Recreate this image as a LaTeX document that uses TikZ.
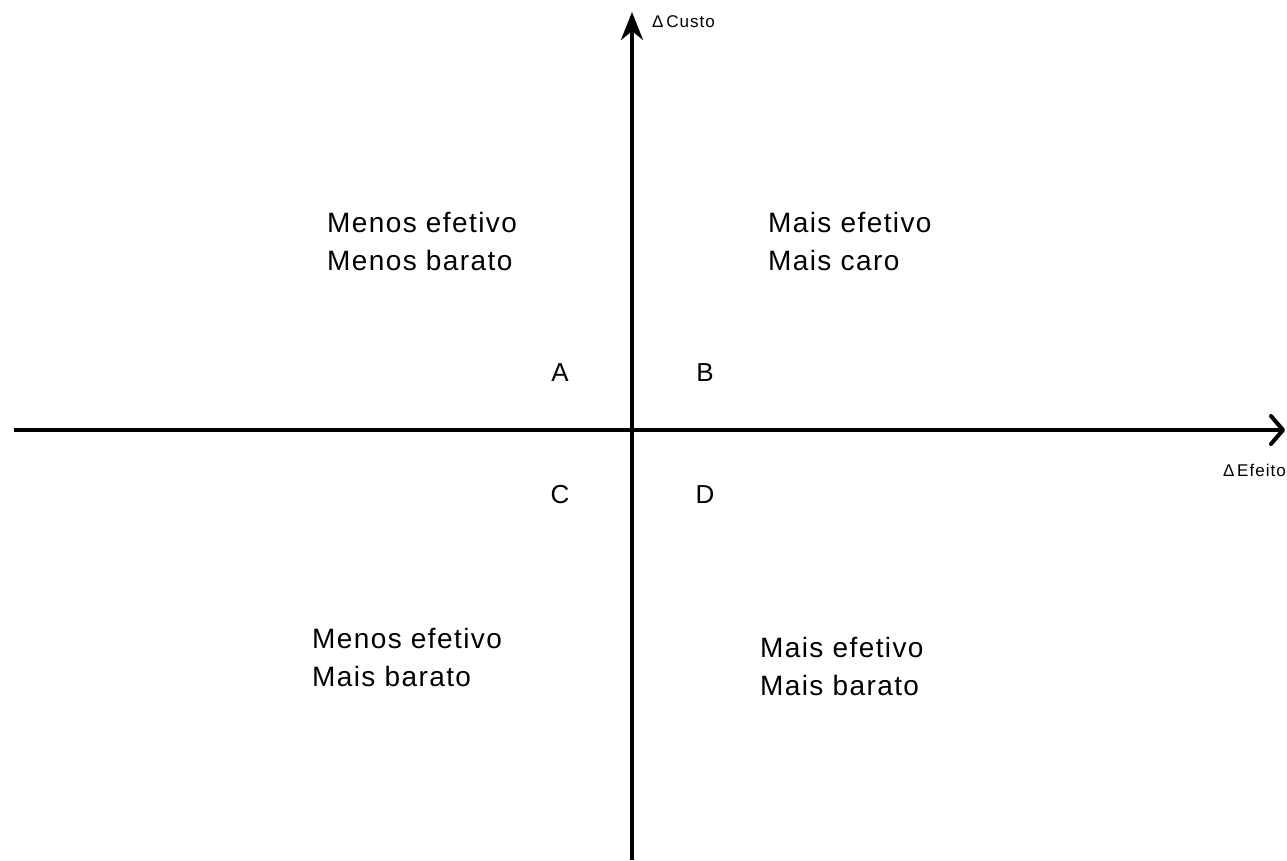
\documentclass[tikz,border=0pt]{standalone}
\usepackage{fontspec}
\setmainfont{Liberation Sans}
\usetikzlibrary{arrows.meta}
\begin{document}
\begin{tikzpicture}[x=1pt,y=-1pt,
  axis/.style={line width=4pt},
  quad/.style={anchor=west,align=left,font=\fontsize{28}{38}\selectfont\addfontfeatures{LetterSpace=5},inner sep=0pt},
  letter/.style={font=\fontsize{26}{30}\selectfont,inner sep=0pt},
  axlabel/.style={font=\fontsize{17}{20}\selectfont\addfontfeatures{LetterSpace=6},inner sep=0pt}]
\useasboundingbox (0,0) rectangle (1287,860);
\coordinate (xl) at (14,430);
\coordinate (xr) at (1285,430);
\coordinate (yb) at (632,860);
\coordinate (yt) at (632,12);
\draw[axis,-{Straight Barb[length=12pt,width=28pt,line width=4pt,round]}] (xl) -- (xr);
\draw[axis,-{Stealth[length=28pt,width=22pt,inset=9pt]}] (yb) -- (yt);
\node[axlabel,anchor=west] (ly) at (652,22) {Δ\,Custo};
\node[axlabel,anchor=east] (lx) at (1286,470) {Δ\,Efeito};
\node[quad] (q1) at (327,241) {Menos efetivo\\Menos barato};
\node[quad] (q2) at (768,241) {Mais efetivo\\Mais caro};
\node[quad] (q3) at (312,657) {Menos efetivo\\Mais barato};
\node[quad] (q4) at (760,666) {Mais efetivo\\Mais barato};
\node[letter] (A) at (560,373) {A};
\node[letter] (B) at (705,373) {B};
\node[letter] (C) at (560,495) {C};
\node[letter] (D) at (705,495) {D};
\end{tikzpicture}
\end{document}
